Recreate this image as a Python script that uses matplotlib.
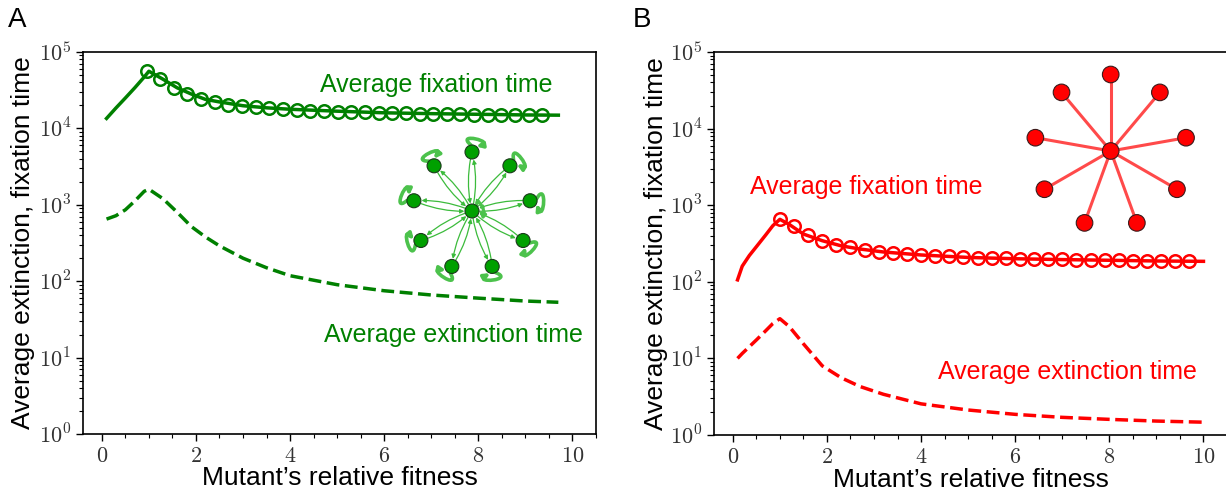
import numpy as np
import matplotlib
matplotlib.use("Agg")
import matplotlib.pyplot as plt
from matplotlib.patches import Circle, FancyArrowPatch
from matplotlib.path import Path
from matplotlib.ticker import FuncFormatter, MultipleLocator, LogLocator

plt.rcParams['font.family'] = ['Liberation Sans', 'DejaVu Sans']
plt.rcParams['mathtext.fontset'] = 'cm'

# ---- data ----
# theory curves (solid = fixation, dashed = extinction)
theory_x = [0.1, 0.3, 0.5, 0.7, 0.9, 1.0, 1.3, 1.6, 1.9, 2.2, 2.5, 3.0, 3.5,
            4.0, 5.0, 6.0, 7.0, 8.0, 9.0, 9.7]
green_fix = [13500, 18500, 25000, 34000, 47000, 56000, 44000, 34000, 28200,
             24000, 22200, 19800, 18600, 17800, 16800, 16000, 15600, 15300,
             15000, 14900]
green_ext = [650, 720, 860, 1120, 1500, 1600, 1200, 800, 520, 380, 290, 200,
             150, 118, 90, 75, 66, 60, 55, 53]

red_x = [0.1, 0.2, 0.35, 0.5, 0.7, 0.85, 1.0, 1.2, 1.5, 1.9, 2.3, 2.7, 3.2,
         4.0, 5.0, 6.0, 7.0, 8.0, 9.0, 10.0]
red_fix = [106, 160, 220, 287, 410, 540, 654, 560, 420, 344, 295, 268, 245,
           224, 208, 200, 195, 191, 187, 185]
red_ext = [10.0, 11.6, 14.2, 17.4, 23.0, 28.5, 33.0, 26.0, 15.5, 8.0, 5.6,
           4.3, 3.4, 2.55, 2.12, 1.86, 1.70, 1.60, 1.52, 1.47]

# simulation points (open circles)
green_sim_x = [0.95, 1.24, 1.53, 1.82, 2.11, 2.40, 2.69, 2.98, 3.27, 3.56,
               3.85, 4.14, 4.43, 4.72, 5.01, 5.30, 5.59, 5.88, 6.17, 6.46,
               6.75, 7.04, 7.33, 7.62, 7.91, 8.20, 8.49, 8.78, 9.07, 9.36]
green_sim = [56000, 44000, 34000, 28200, 24000, 22200, 20400, 19500, 18900,
             18300, 17800, 17400, 17100, 16800, 16600, 16400, 16200, 16000,
             15900, 15700, 15600, 15500, 15400, 15300, 15200, 15100, 15000,
             14950, 14900, 14850]
red_sim_x = [1.0, 1.3, 1.6, 1.9, 2.2, 2.5, 2.8, 3.1, 3.4, 3.7, 4.0, 4.3, 4.6,
             4.9, 5.2, 5.5, 5.8, 6.1, 6.4, 6.7, 7.0, 7.3, 7.6, 7.9, 8.2, 8.5,
             8.8, 9.1, 9.4, 9.7]
red_sim = [654, 535, 408, 344, 302, 282, 260, 245, 238, 231, 224, 219, 215,
           211, 207, 205, 203, 201, 199, 197, 196, 194, 193, 191, 190, 189,
           188, 187, 186, 185]

n_leaves = 9
GREEN = '#008000'
RED = '#ff0000'

W, H = 1226, 496
fig = plt.figure(figsize=(W / 100, H / 100), dpi=100)


def px_axes(x0, y0, x1, y1):
    # rectangle given in image pixels (top-left origin)
    return [x0 / W, 1 - y1 / H, (x1 - x0) / W, (y1 - y0) / H]


def style_axes(ax, ylab_x):
    ax.set_yscale('log')
    ax.set_ylim(1, 1e5)
    ax.set_xlim(-0.4, 10.5)
    ax.xaxis.set_major_locator(MultipleLocator(2))
    ax.xaxis.set_minor_locator(MultipleLocator(0.5))
    ax.yaxis.set_major_locator(LogLocator(base=10, numticks=10))
    ax.yaxis.set_minor_locator(LogLocator(base=10, subs=np.arange(2, 10), numticks=20))
    ax.xaxis.set_major_formatter(FuncFormatter(lambda v, p: f'${v:g}$'))
    ax.yaxis.set_major_formatter(FuncFormatter(lambda v, p: f'$10^{{{int(round(np.log10(v)))}}}$'))
    ax.tick_params(which='major', length=5, width=1, labelsize=16, labelcolor='#333333')
    ax.tick_params(which='minor', length=3, width=0.8)
    ax.set_xlabel("Mutant\u2019s relative fitness", fontsize=19)
    ax.set_ylabel("Average extinction, fixation time", fontsize=19)
    ax.xaxis.set_label_coords(0.5, -0.085)
    ax.yaxis.set_label_coords(ylab_x, 0.5)
    for s in ax.spines.values():
        s.set_linewidth(1.2)


ax1 = fig.add_axes(px_axes(83, 52, 596, 434))
ax2 = fig.add_axes(px_axes(714, 52, 1227, 435))

for ax, col, tx, fix, ext, sx, sim, lx_ in [
        (ax1, GREEN, theory_x, green_fix, green_ext, green_sim_x, green_sim, -0.094),
        (ax2, RED, red_x, red_fix, red_ext, red_sim_x, red_sim, -0.089)]:
    ax.plot(tx, fix, color=col, lw=2.5)
    ax.plot(tx, ext, color=col, lw=2.5, ls='--')
    ax.plot(sx, sim, 'o', mfc='none', mec=col, mew=1.8, ms=9)
    style_axes(ax, lx_)

ax1.text(9.57, 37000, 'Average fixation time', color=GREEN, fontsize=18, ha='right', va='center')
ax1.text(10.23, 20, 'Average extinction time', color=GREEN, fontsize=18, ha='right', va='center')
ax2.text(0.36, 1730, 'Average fixation time', color=RED, fontsize=18, ha='left', va='center')
ax2.text(9.87, 6.6, 'Average extinction time', color=RED, fontsize=18, ha='right', va='center')

fig.text(17 / W, 1 - 20 / H, 'A', fontsize=20, ha='center', va='center')
fig.text(642 / W, 1 - 20 / H, 'B', fontsize=20, ha='center', va='center')

# ---- network insets ----
angles = np.deg2rad(90 - 40 * np.arange(n_leaves))


def loop_path(cx, cy, th, r_node, size, spread=0.95):
    a1, a2 = th + 0.4, th - 0.4
    p0 = (cx + r_node * np.cos(a1), cy + r_node * np.sin(a1))
    c1 = (cx + size * np.cos(th + spread), cy + size * np.sin(th + spread))
    c2 = (cx + size * np.cos(th - spread), cy + size * np.sin(th - spread))
    p1 = (cx + r_node * np.cos(a2), cy + r_node * np.sin(a2))
    return Path([p0, c1, c2, p1], [Path.MOVETO, Path.CURVE4, Path.CURVE4, Path.CURVE4])


# green: directed star with self loops
cxg, cyg, rg, half = 472, 211, 59, 90
axg = fig.add_axes(px_axes(cxg - half, cyg - half, cxg + half, cyg + half))
axg.set_xlim(-half, half)
axg.set_ylim(-half, half)
axg.axis('off')
node_g = 7
lx = rg * np.cos(angles)
ly = rg * np.sin(angles)
for x, y, th in zip(lx, ly, angles):
    for a, b in [((0, 0), (x, y)), ((x, y), (0, 0))]:
        axg.add_patch(FancyArrowPatch(a, b, connectionstyle='arc3,rad=0.12',
                                      arrowstyle='-|>', mutation_scale=6,
                                      color='#3cbb3c', lw=0.9,
                                      shrinkA=5.5, shrinkB=5.5))
    axg.add_patch(FancyArrowPatch(path=loop_path(x, y, th - 0.25, node_g, 27),
                                  arrowstyle='-|>', mutation_scale=8,
                                  color='#4cc24c', lw=2.6))
axg.add_patch(FancyArrowPatch(path=loop_path(0, 0, np.deg2rad(25), node_g, 21),
                              arrowstyle='-|>', mutation_scale=7,
                              color='#4cc24c', lw=2.2))
for x, y in [(0, 0)] + list(zip(lx, ly)):
    axg.add_patch(Circle((x, y), node_g, fc='#00a000', ec='#1a3a1a', lw=0.8, zorder=5))

# red: undirected star
cxr, cyr, rr, halfr = 1110.7, 151, 76.5, 95
axr = fig.add_axes(px_axes(cxr - halfr, cyr - halfr, cxr + halfr, cyr + halfr))
axr.set_xlim(-halfr, halfr)
axr.set_ylim(-halfr, halfr)
axr.axis('off')
node_r = 8.3
for th in angles:
    axr.plot([0, rr * np.cos(th)], [0, rr * np.sin(th)], color='#ff4a4a', lw=2.2, zorder=1)
for x, y in [(0, 0)] + list(zip(rr * np.cos(angles), rr * np.sin(angles))):
    axr.add_patch(Circle((x, y), node_r, fc='#ff0000', ec='#3a1a1a', lw=0.8, zorder=5))

fig.savefig('out.png', dpi=100)
